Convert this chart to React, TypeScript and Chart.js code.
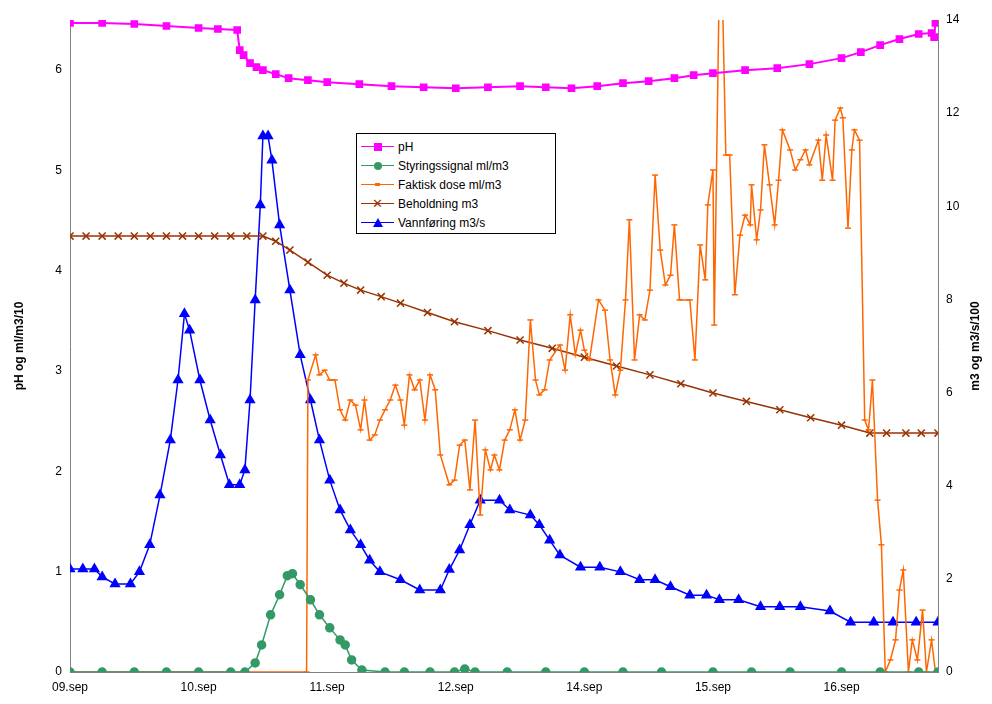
import { useEffect, useRef } from "react";
import { Chart, registerables } from "chart.js";

Chart.register(...registerables);

const dayLabels = ["09.sep", "10.sep", "11.sep", "12.sep", "14.sep", "15.sep", "16.sep"];

const phDays = [0, 0.25, 0.5, 0.75, 1.0, 1.15, 1.3, 1.32, 1.35, 1.4, 1.45, 1.5, 1.6, 1.7, 1.85, 2.0, 2.25, 2.5, 2.75, 3.0, 3.25, 3.5, 3.7, 3.9, 4.1, 4.3, 4.5, 4.7, 4.85, 5.0, 5.25, 5.5, 5.75, 6.0, 6.15, 6.3, 6.45, 6.6, 6.7, 6.72, 6.73, 6.75];
const phVals = [6.47, 6.47, 6.46, 6.44, 6.42, 6.41, 6.4, 6.2, 6.15, 6.07, 6.03, 6.0, 5.96, 5.92, 5.9, 5.88, 5.86, 5.84, 5.83, 5.82, 5.83, 5.84, 5.83, 5.82, 5.84, 5.87, 5.89, 5.92, 5.95, 5.97, 6.0, 6.02, 6.06, 6.12, 6.18, 6.25, 6.31, 6.36, 6.37, 6.33, 6.47, 6.48];

const styrDays = [0, 0.25, 0.5, 0.75, 1.0, 1.25, 1.36, 1.44, 1.49, 1.56, 1.63, 1.69, 1.73, 1.79, 1.87, 1.94, 2.02, 2.1, 2.14, 2.19, 2.27, 2.45, 2.6, 2.8, 2.99, 3.07, 3.15, 3.4, 3.7, 4, 4.3, 4.6, 5, 5.3, 5.6, 6, 6.3, 6.6, 6.75];
const styrVals = [0, 0, 0, 0, 0, 0, 0, 0.09, 0.27, 0.57, 0.77, 0.96, 0.98, 0.87, 0.72, 0.57, 0.44, 0.32, 0.27, 0.12, 0.02, 0, 0, 0, 0, 0.03, 0, 0, 0, 0, 0, 0, 0, 0, 0, 0, 0, 0, 0];

const doseDays = [0, 1.84, 1.85, 1.91, 1.94, 1.98, 2.02, 2.06, 2.1, 2.14, 2.18, 2.22, 2.26, 2.29, 2.33, 2.37, 2.41, 2.45, 2.49, 2.53, 2.57, 2.6, 2.64, 2.68, 2.72, 2.76, 2.8, 2.84, 2.88, 2.95, 2.99, 3.03, 3.07, 3.11, 3.15, 3.19, 3.23, 3.27, 3.3, 3.34, 3.38, 3.42, 3.46, 3.5, 3.54, 3.58, 3.62, 3.65, 3.69, 3.73, 3.81, 3.85, 3.89, 3.93, 3.97, 4.0, 4.04, 4.11, 4.16, 4.2, 4.24, 4.28, 4.32, 4.35, 4.39, 4.43, 4.47, 4.51, 4.55, 4.59, 4.63, 4.67, 4.7, 4.74, 4.82, 4.86, 4.9, 4.94, 4.96, 5.0, 5.01, 5.05, 5.07, 5.1, 5.13, 5.17, 5.21, 5.25, 5.29, 5.3, 5.34, 5.37, 5.4, 5.44, 5.48, 5.51, 5.54, 5.6, 5.64, 5.68, 5.72, 5.75, 5.82, 5.85, 5.88, 5.93, 5.95, 5.99, 6.01, 6.05, 6.08, 6.1, 6.14, 6.18, 6.21, 6.24, 6.28, 6.31, 6.34, 6.38, 6.42, 6.45, 6.48, 6.52, 6.55, 6.59, 6.63, 6.66, 6.7, 6.73];
const doseVals = [0, 0, 6.27, 6.81, 6.38, 6.48, 6.27, 6.27, 5.63, 5.41, 5.84, 5.73, 5.2, 5.84, 4.98, 5.09, 5.41, 5.63, 5.84, 6.16, 5.84, 5.3, 6.38, 6.06, 6.27, 5.41, 6.38, 6.06, 4.66, 4.02, 4.12, 4.87, 4.98, 3.91, 5.41, 3.37, 4.77, 4.34, 4.66, 4.34, 4.98, 5.2, 5.63, 4.98, 5.41, 7.56, 6.27, 5.95, 6.06, 6.7, 7.02, 6.48, 7.67, 6.81, 7.34, 6.91, 6.7, 7.99, 7.77, 6.7, 5.95, 6.48, 7.99, 9.71, 6.7, 7.67, 7.56, 8.2, 10.67, 9.06, 8.31, 8.52, 9.6, 7.99, 7.99, 6.7, 9.17, 8.42, 10.03, 10.78, 7.45, 15, 15, 11.1, 11.1, 8.1, 9.38, 9.81, 9.6, 10.46, 9.28, 9.92, 11.32, 10.46, 9.6, 10.56, 11.64, 11.21, 10.78, 11.0, 11.21, 10.89, 11.42, 10.56, 11.53, 10.56, 11.85, 12.11, 11.9, 9.53, 11.21, 11.64, 11.42, 5.41, 5.2, 6.27, 3.69, 2.73, 0, 0.26, 0.69, 1.76, 2.19, 0, 0.69, 0.26, 1.33, 0, 0.69, 0, 2.4];

const beholdDays = [0, 0.125, 0.25, 0.375, 0.5, 0.625, 0.75, 0.875, 1.0, 1.125, 1.25, 1.375, 1.5, 1.6, 1.71, 1.85, 2.0, 2.13, 2.26, 2.42, 2.57, 2.78, 2.99, 3.25, 3.5, 3.75, 4.0, 4.25, 4.51, 4.75, 5.0, 5.26, 5.52, 5.76, 6.0, 6.22, 6.35, 6.5, 6.62, 6.75];
const beholdVals = [9.36, 9.36, 9.36, 9.36, 9.36, 9.36, 9.36, 9.36, 9.36, 9.36, 9.36, 9.36, 9.36, 9.25, 9.06, 8.8, 8.52, 8.35, 8.2, 8.06, 7.92, 7.72, 7.52, 7.33, 7.13, 6.95, 6.76, 6.57, 6.38, 6.19, 5.99, 5.81, 5.63, 5.46, 5.3, 5.13, 5.13, 5.13, 5.13, 5.13];

const vannDays = [0, 0.1, 0.19, 0.25, 0.35, 0.47, 0.54, 0.62, 0.7, 0.78, 0.84, 0.89, 0.93, 1.01, 1.09, 1.17, 1.24, 1.32, 1.36, 1.4, 1.44, 1.48, 1.5, 1.54, 1.57, 1.63, 1.71, 1.79, 1.87, 1.94, 2.02, 2.1, 2.18, 2.26, 2.33, 2.41, 2.57, 2.72, 2.88, 2.95, 3.03, 3.11, 3.19, 3.34, 3.42, 3.58, 3.65, 3.73, 3.81, 3.97, 4.12, 4.28, 4.43, 4.55, 4.67, 4.82, 4.95, 5.05, 5.2, 5.37, 5.52, 5.68, 5.91, 6.07, 6.25, 6.4, 6.58, 6.75];
const vannVals = [2.21, 2.21, 2.21, 2.04, 1.89, 1.89, 2.15, 2.73, 3.8, 4.98, 6.27, 7.69, 7.34, 6.27, 5.41, 4.66, 4.02, 4.02, 4.34, 5.84, 7.99, 10.03, 11.51, 11.51, 10.99, 9.6, 8.2, 6.81, 5.84, 4.98, 4.12, 3.48, 3.05, 2.73, 2.4, 2.15, 1.98, 1.76, 1.76, 2.2, 2.62, 3.16, 3.69, 3.69, 3.48, 3.37, 3.16, 2.83, 2.51, 2.25, 2.25, 2.15, 1.98, 1.98, 1.83, 1.65, 1.65, 1.55, 1.55, 1.4, 1.4, 1.4, 1.31, 1.07, 1.07, 1.07, 1.07, 1.07];

const pts = (xs: number[], ys: number[]) => xs.map((x, i) => ({ x, y: ys[i] }));

const FONT = "Arial, 'Liberation Sans', sans-serif";

export default function App() {
  const canvasRef = useRef<HTMLCanvasElement>(null);

  useEffect(() => {
    if (!canvasRef.current) return;
    const chart = new Chart(canvasRef.current, {
      type: "line",
      data: {
        datasets: [
          {
            label: "pH",
            data: pts(phDays, phVals),
            yAxisID: "y",
            borderColor: "#ff00ff",
            backgroundColor: "#ff00ff",
            pointStyle: "rect",
            pointRadius: 4,
            borderWidth: 2,
          },
          {
            label: "Styringssignal ml/m3",
            data: pts(styrDays, styrVals),
            yAxisID: "y",
            borderColor: "#339966",
            backgroundColor: "#339966",
            pointStyle: "circle",
            pointRadius: 4,
            borderWidth: 1.5,
          },
          {
            label: "Faktisk dose ml/m3",
            data: pts(doseDays, doseVals),
            yAxisID: "y1",
            borderColor: "#ff6600",
            backgroundColor: "#ff6600",
            pointStyle: "line",
            pointRadius: 3,
            borderWidth: 1.5,
          },
          {
            label: "Beholdning m3",
            data: pts(beholdDays, beholdVals),
            yAxisID: "y1",
            borderColor: "#993300",
            backgroundColor: "#993300",
            pointStyle: "crossRot",
            pointRadius: 5,
            borderWidth: 1.5,
          },
          {
            label: "Vannføring m3/s",
            data: pts(vannDays, vannVals),
            yAxisID: "y1",
            borderColor: "#0000ff",
            backgroundColor: "#0000ff",
            pointStyle: "triangle",
            pointRadius: 5,
            borderWidth: 1.5,
          },
        ],
      },
      options: {
        animation: false,
        responsive: false,
        layout: { padding: { top: 20 } },
        plugins: { legend: { display: false }, tooltip: { enabled: false } },
        scales: {
          x: {
            type: "linear",
            min: 0,
            max: 6.75,
            grid: { display: false, tickLength: 5 },
            border: { color: "#808080" },
            afterBuildTicks: (s) => {
              s.ticks = dayLabels.map((_, i) => ({ value: i }));
            },
            afterFit: (s) => {
              s.height = 32;
            },
            ticks: {
              color: "#000",
              font: { family: FONT, size: 12 },
              maxRotation: 0,
              callback: (v) => dayLabels[Number(v)] ?? "",
            },
          },
          y: {
            position: "left",
            min: 0,
            max: 6.5,
            grid: { display: false, tickLength: 5 },
            border: { color: "#808080" },
            afterBuildTicks: (s) => {
              s.ticks = [0, 1, 2, 3, 4, 5, 6].map((v) => ({ value: v }));
            },
            afterFit: (s) => {
              s.width = 70;
            },
            ticks: { color: "#000", font: { family: FONT, size: 12 } },
          },
          y1: {
            position: "right",
            min: 0,
            max: 14,
            grid: { display: false, tickLength: 5 },
            border: { color: "#808080" },
            afterFit: (s) => {
              s.width = 54;
            },
            ticks: { stepSize: 2, color: "#000", font: { family: FONT, size: 12 } },
          },
        },
      },
    });
    return () => chart.destroy();
  }, []);

  const legendItems: { label: string; color: string; marker: JSX.Element }[] = [
    { label: "pH", color: "#ff00ff", marker: <span style={{ width: 8, height: 8, background: "#ff00ff" }} /> },
    { label: "Styringssignal ml/m3", color: "#339966", marker: <span style={{ width: 8, height: 8, borderRadius: 4, background: "#339966" }} /> },
    { label: "Faktisk dose ml/m3", color: "#ff6600", marker: <span style={{ width: 5, height: 3, background: "#ff6600" }} /> },
    { label: "Beholdning m3", color: "#993300", marker: <span style={{ color: "#993300", fontSize: 13, lineHeight: "10px" }}>✕</span> },
    {
      label: "Vannføring m3/s",
      color: "#0000ff",
      marker: <span style={{ width: 0, height: 0, borderLeft: "5px solid transparent", borderRight: "5px solid transparent", borderBottom: "9px solid #0000ff" }} />,
    },
  ];

  const titleStyle = {
    position: "absolute" as const,
    top: 346,
    width: 200,
    marginLeft: -100,
    textAlign: "center" as const,
    transform: "rotate(-90deg)",
    fontFamily: FONT,
    fontSize: 12,
    fontWeight: "bold" as const,
    lineHeight: "14px",
    marginTop: -7,
  };

  return (
    <div style={{ position: "relative", width: 992, height: 704, margin: -8, background: "#fff", overflow: "hidden" }}>
      <canvas ref={canvasRef} width={992} height={704} style={{ width: 992, height: 704 }} />
      <div style={{ ...titleStyle, left: 19 }}>pH og ml/m3/10</div>
      <div style={{ ...titleStyle, left: 975 }}>m3 og m3/s/100</div>
      <div
        style={{
          position: "absolute",
          left: 356,
          top: 133,
          width: 200,
          height: 101,
          border: "1px solid #000",
          background: "#fff",
          boxSizing: "border-box",
          padding: "3px 0 0 4px",
          fontFamily: FONT,
          fontSize: 12,
        }}
      >
        {legendItems.map((it) => (
          <div key={it.label} style={{ display: "flex", alignItems: "center", height: 19 }}>
            <div style={{ position: "relative", width: 33, height: 10, display: "flex", alignItems: "center", justifyContent: "center" }}>
              <div style={{ position: "absolute", left: 0, right: 0, top: 4, height: 1.5, background: it.color }} />
              <div style={{ position: "relative", display: "flex" }}>{it.marker}</div>
            </div>
            <span style={{ marginLeft: 4 }}>{it.label}</span>
          </div>
        ))}
      </div>
    </div>
  );
}
